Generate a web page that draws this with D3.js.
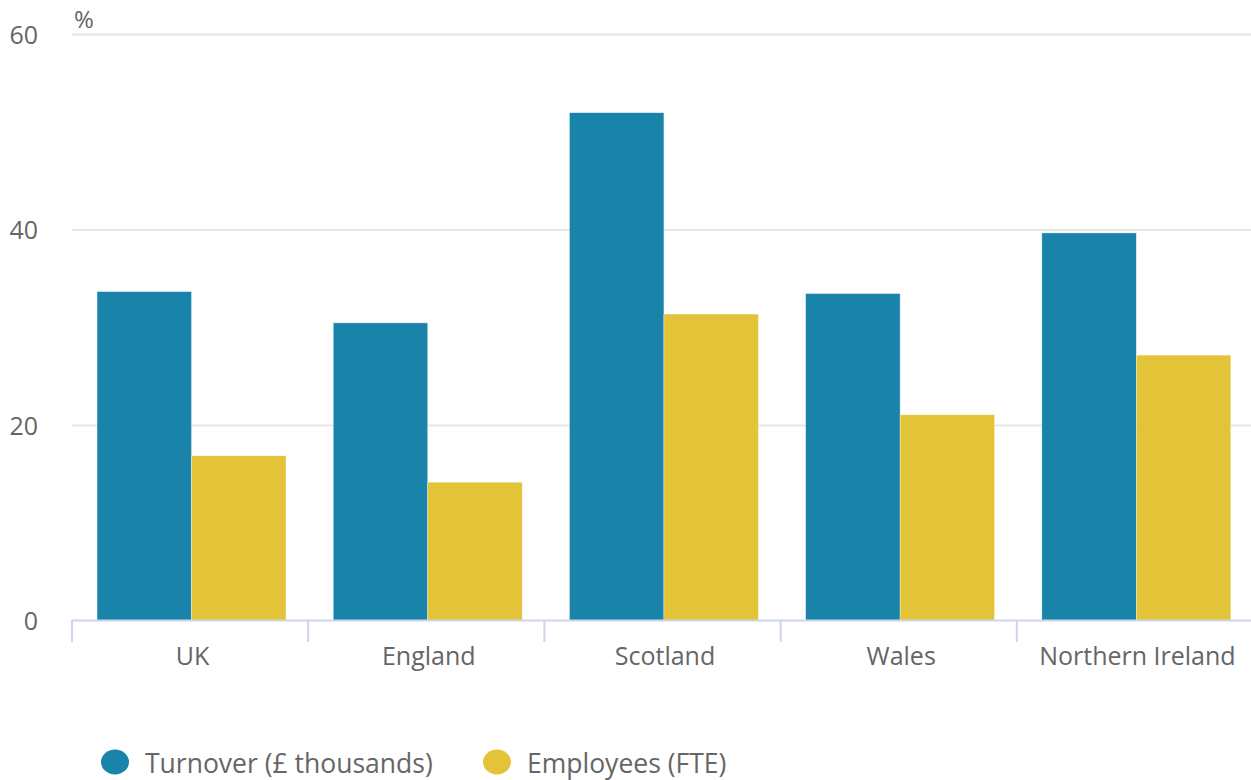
<!DOCTYPE html>
<html>
<head>
<meta charset="utf-8">
<script src="https://cdn.jsdelivr.net/npm/d3@7/dist/d3.min.js"></script>
<style>
  html, body { margin: 0; padding: 0; background: #fff; }
  svg { display: block; font-family: "Open Sans", sans-serif; }
</style>
</head>
<body>
<svg id="chart" width="1251" height="780"></svg>
<script>
const categories = ["UK", "England", "Scotland", "Wales", "Northern Ireland"];
const seriesNames = ["Turnover (£ thousands)", "Employees (FTE)"];
const turnover = [33.7, 30.5, 52.0, 33.5, 39.7];
const employees = [16.9, 14.2, 31.4, 21.1, 27.2];
const yTicks = [0, 20, 40, 60];
const colors = ["#1a83aa", "#e3c337"];

const svg = d3.select("#chart");
const plotLeft = 72, plotTop = 34.5, plotBottom = 621, step = 236.2;
const plotRight = plotLeft + step * categories.length;

const x0 = d3.scaleBand().domain(categories).range([plotLeft, plotRight]);
const x1 = d3.scaleBand().domain(seriesNames).range([0, x0.bandwidth()]).paddingOuter(0.25).align(0.53);
const y = d3.scaleLinear().domain([0, 60]).range([plotBottom, plotTop]);

// gridlines
svg.append("g").selectAll("line").data(yTicks.filter(d => d > 0)).join("line")
  .attr("x1", plotLeft).attr("x2", 1251)
  .attr("y1", d => y(d)).attr("y2", d => y(d))
  .attr("stroke", "#e6e6e6").attr("stroke-width", 2);

// y labels
svg.append("g").selectAll("text").data(yTicks).join("text")
  .attr("x", 38).attr("y", d => y(d) + 9)
  .attr("text-anchor", "end")
  .attr("font-size", 25).attr("fill", "#666")
  .text(d => d);

svg.append("text").attr("x", 74).attr("y", 28)
  .attr("font-size", 24).attr("fill", "#666").text("%");

// bars
const rows = categories.map((c, i) => ({ cat: c, vals: [turnover[i], employees[i]] }));
const groups = svg.append("g").selectAll("g").data(rows).join("g")
  .attr("transform", d => `translate(${x0(d.cat)},0)`);
groups.selectAll("rect").data(d => d.vals.map((v, j) => ({ s: seriesNames[j], v, j }))).join("rect")
  .attr("x", d => x1(d.s))
  .attr("width", x1.bandwidth())
  .attr("y", d => y(d.v))
  .attr("height", d => y(0) - y(d.v))
  .attr("fill", d => colors[d.j])
  .attr("stroke", "#fff").attr("stroke-width", 0.6).attr("stroke-opacity", 0.6);

// x axis
svg.append("line").attr("x1", plotLeft).attr("x2", 1251)
  .attr("y1", 620.5).attr("y2", 620.5)
  .attr("stroke", "#ccd6eb").attr("stroke-width", 2);
const tickPos = categories.map(c => x0(c)).concat([plotRight]);
svg.append("g").selectAll("line").data(tickPos).join("line")
  .attr("x1", d => d).attr("x2", d => d)
  .attr("y1", 620).attr("y2", 642)
  .attr("stroke", "#ccd6eb").attr("stroke-width", 2);
svg.append("g").selectAll("text").data(categories).join("text")
  .attr("x", d => x0(d) + x0.bandwidth() / 2 + 2.5)
  .attr("y", 665)
  .attr("text-anchor", "middle")
  .attr("font-size", 25).attr("fill", "#666")
  .text(d => d);

// legend
const legendX = [115, 497];
const lg = svg.append("g").selectAll("g").data(seriesNames).join("g")
  .attr("transform", (d, i) => `translate(${legendX[i]},762)`);
lg.append("ellipse").attr("rx", 14).attr("ry", 12.5).attr("fill", (d, i) => colors[i]);
lg.append("text").attr("x", 30).attr("y", 10.5)
  .attr("font-size", 26.5).attr("fill", "#666").text(d => d);
</script>
</body>
</html>
